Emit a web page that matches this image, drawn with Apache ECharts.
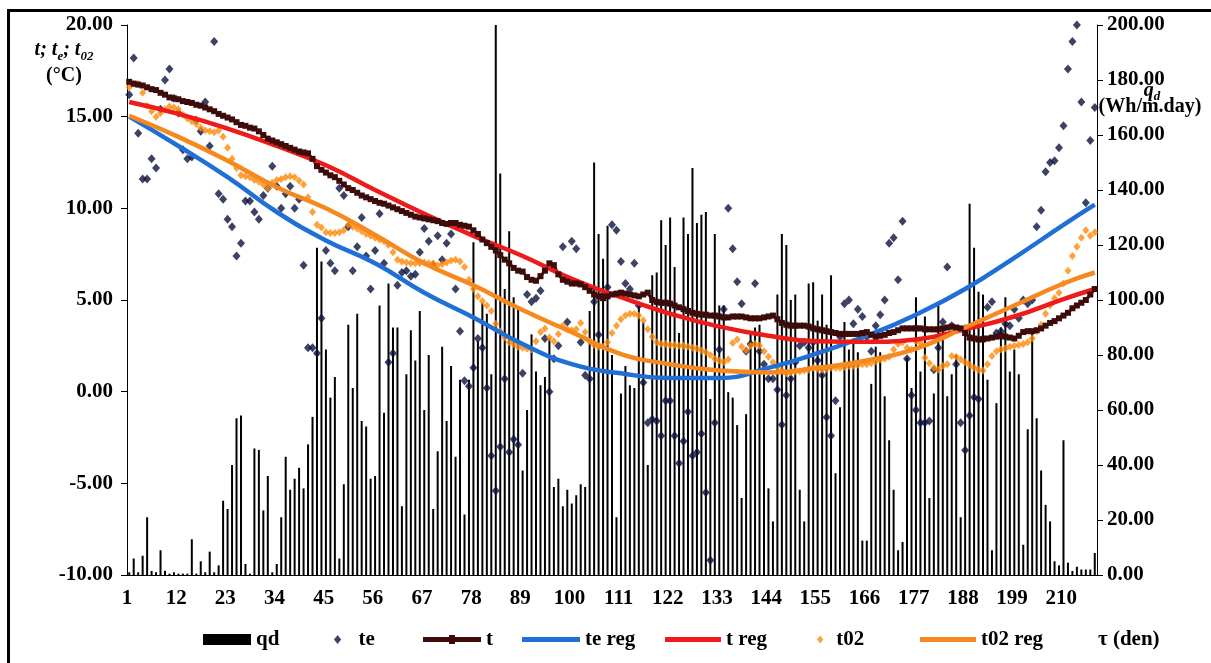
<!DOCTYPE html>
<html>
<head>
<meta charset="utf-8">
<script src="https://cdn.jsdelivr.net/npm/echarts@6/dist/echarts.min.js"></script>
<style>
  html, body { margin: 0; padding: 0; background: #fff; }
  #chart { width: 1211px; height: 663px; }
</style>
</head>
<body>
<div id="chart"></div>
<script>
// Days of the heating period (τ, den)
const days = Array.from({ length: 217 }, (_, i) => String(i + 1));

// Daily heat flux qd (Wh/m.day) – right axis
const qd = [
  1, 6, 1, 7, 21, 1.5, 1, 9, 1.5, 0.5,
  1, 0.5, 0.5, 0.5, 13, 0.5, 5, 1, 8.5, 1,
  3.5, 27, 24, 40, 57, 58, 4, 0.5, 46, 45.5,
  23.5, 36, 1, 4, 21, 43, 31, 35, 39, 31.5,
  47.5, 57.5, 119, 114, 82, 64.5, 72, 6, 33, 91,
  68, 95, 56, 54, 35, 36, 98, 59, 106, 90,
  90, 25, 73, 89, 78, 96, 60, 80, 24, 45,
  83, 56, 76, 43, 71, 22, 71, 121, 85, 99,
  95, 73, 200, 146, 104, 125, 101, 97, 38, 60,
  87.5, 74, 69, 72, 86, 32, 35, 25, 31, 26,
  29, 33, 32, 96, 150, 124, 115, 127, 80, 21,
  66, 76, 69, 68, 99, 92, 40, 109, 110, 129,
  120, 130, 112, 88, 130, 124, 148, 128, 131, 132,
  64, 124, 98, 98, 66.5, 64.5, 54.5, 28, 58.5, 88,
  90, 91, 73, 31.5, 19.5, 102, 124, 120, 100, 102,
  31, 19.5, 106, 106.5, 92.5, 102, 91, 109, 37, 61,
  92, 82, 86, 81, 12.5, 12.5, 69.5, 83, 81, 65,
  49, 31, 9, 12, 79, 68, 101, 74, 94, 28,
  66, 98, 89, 65, 73, 80, 21, 91, 135, 119,
  103, 102, 71, 9, 62.5, 90, 101, 74, 82, 73,
  11, 53, 89, 57, 38, 25.5, 19.5, 5, 3.5, 49,
  4.5, 1.5, 3, 2, 2, 2, 8
];

// Outdoor temperature te (°C)
const te = [
  16.2, 18.2, 14.1, 11.6, 11.6, 12.7, 12.2, 15.4, 17.0, 17.6,
  16.0, 15.2, 13.2, 12.7, 12.8, 14.8, 14.2, 15.8, 13.4, 19.1,
  10.8, 10.5, 9.4, 9.0, 7.4, 8.1, 10.4, 10.4, 9.8, 9.4,
  10.7, 11.1, 12.3, 11.2, 10.0, 10.8, 11.2, 10.0, 10.5, 6.9,
  2.4, 2.4, 2.1, 4.0, 7.7, 7.0, 6.6, 11.1, 10.7, 9.0,
  6.6, 7.9, 9.5, 7.4, 5.6, 7.7, 9.7, 7.0, 1.6, 2.1,
  5.8, 6.5, 6.6, 6.3, 6.4, 7.6, 8.9, 8.2, 6.9, 8.5,
  7.2, 8.1, 8.6, 5.6, 3.3, 0.6, 0.3, 1.3, 2.9, 2.4,
  0.2, -3.5, -5.4, -3.0, 0.7, -3.3, -2.6, -2.9, 1.0, 5.3,
  4.9, 5.1, 5.5, 2.9, 0.0, 1.8, 2.5, 7.9, 3.8, 8.2,
  7.8, 2.7, 0.9, 0.7, 4.9, 3.1, 5.3, 5.7, 9.1, 8.8,
  7.1, 5.9, 5.6, 7.0, 4.7, 0.5, -1.7, -1.5, -1.6, -2.4,
  -0.5, -0.5, -2.4, -3.9, -2.7, -1.1, -3.5, -3.3, -2.3, -5.5,
  -9.2, -1.7, 2.3, 4.5, 10.0, 7.8, 6.0, 4.8, 2.2, 2.6,
  5.9, 2.2, 1.5, 0.7, 0.7, 0.1, -1.8, -0.2, 0.7, 1.6,
  2.5, 2.7, 2.4, 2.7, 1.7, 0.9, -1.4, -2.4, -0.5, 3.0,
  4.8, 5.0, 3.7, 4.5, 4.1, 3.0, 2.2, 3.6, 4.2, 5.0,
  8.1, 8.4, 6.1, 9.3, 1.8, -0.2, -1.0, -1.7, -1.7, -1.6,
  1.2, 2.4, 3.8, 6.8, 3.6, 1.5, -1.7, -3.2, -1.3, -0.3,
  -0.4, 2.9, 4.6, 4.9, 3.2, 3.3, 3.7, 3.6, 4.5, 4.0,
  5.0, 4.8, 5.0, 9.0, 9.9, 12.0, 12.5, 12.6, 13.3, 14.5,
  17.6, 19.1, 20.0, 15.8, 10.3, 13.7, 15.5
];

// Temperature t (°C)
const t = [
  16.9, 16.8, 16.75, 16.7, 16.6, 16.5, 16.45, 16.3, 16.2, 16.05,
  16.0, 15.95, 15.85, 15.8, 15.75, 15.65, 15.6, 15.5, 15.4, 15.3,
  15.15, 15.05, 14.95, 14.85, 14.7, 14.55, 14.5, 14.4, 14.35, 14.2,
  14.0, 13.8, 13.7, 13.6, 13.5, 13.4, 13.3, 13.2, 13.1, 13.05,
  13.0, 12.7, 12.3, 12.1, 11.95, 11.8, 11.7, 11.5, 11.3, 11.1,
  11.0, 10.85, 10.7, 10.6, 10.5, 10.4, 10.3, 10.25, 10.15, 10.05,
  9.95, 9.85, 9.75, 9.65, 9.55, 9.5, 9.45, 9.4, 9.35, 9.3,
  9.2, 9.15, 9.2, 9.2, 9.1, 9.05, 9.0, 8.8, 8.6, 8.3,
  8.1, 7.9, 7.7, 7.45, 7.2, 7.0, 6.75, 6.6, 6.55, 6.25,
  6.1, 6.05, 6.3, 6.6, 7.0, 6.9, 6.4, 6.1, 6.0, 5.9,
  5.9, 5.85, 5.7, 5.5, 5.3, 5.2, 5.1, 5.2, 5.3, 5.35,
  5.4, 5.35, 5.3, 5.25, 5.2, 5.3, 5.4, 5.0, 4.9, 4.85,
  4.85, 4.8, 4.7, 4.6, 4.5, 4.4, 4.3, 4.25, 4.2, 4.2,
  4.15, 4.15, 4.1, 4.05, 4.05, 4.1, 4.1, 4.1, 4.05, 4.0,
  4.0, 4.0, 4.05, 4.1, 4.15, 3.95, 3.75, 3.65, 3.6, 3.6,
  3.6, 3.6, 3.55, 3.45, 3.4, 3.35, 3.3, 3.25, 3.2, 3.15,
  3.15, 3.15, 3.15, 3.15, 3.2, 3.25, 3.1, 3.0, 3.05, 3.1,
  3.2, 3.25, 3.35, 3.45, 3.45, 3.45, 3.45, 3.45, 3.4, 3.4,
  3.4, 3.4, 3.45, 3.5, 3.55, 3.5, 3.45, 3.2, 2.95, 2.9,
  2.85, 2.85, 2.9, 2.95, 3.0, 3.05, 3.0, 2.95, 2.9, 3.05,
  3.25, 3.3, 3.3, 3.35, 3.45, 3.6, 3.75, 3.85, 4.0, 4.15,
  4.3, 4.55, 4.7, 4.85, 5.0, 5.3, 5.6
];

// Temperature t02 (°C)
const t02 = [
  16.6, 16.8, 16.8, 16.3, 15.6, 15.3, 15.0, 15.2, 15.4, 15.55,
  15.5, 15.4, 15.1, 14.9, 14.75, 14.6, 14.4, 14.25, 14.2, 14.15,
  14.25, 13.9, 13.3, 12.7, 12.2, 11.8, 11.75, 11.7, 11.55, 11.45,
  11.3, 11.1, 11.4, 11.55, 11.6, 11.7, 11.75, 11.7, 11.5, 11.3,
  10.6, 9.8, 9.1, 8.95, 8.7, 8.65, 8.65, 8.7, 8.8, 9.1,
  9.0, 8.9, 8.75, 8.6, 8.5, 8.4, 8.3, 8.2, 8.0, 7.6,
  7.2, 7.1, 7.05, 7.0, 7.0, 7.0, 7.05, 7.0, 7.0, 6.9,
  6.95, 7.05, 7.15, 7.2, 7.1, 6.8, 6.1, 5.6, 5.2, 4.95,
  4.7, 4.4, 3.7, 3.3, 2.95, 2.7, 2.6, 2.45, 2.4, 2.35,
  2.3, 2.75, 3.25, 3.45, 2.95, 2.75, 3.15, 3.6, 3.4, 3.35,
  3.4, 3.75, 3.25, 2.75, 2.55, 2.45, 2.45, 2.7, 3.2, 3.6,
  3.95, 4.15, 4.25, 4.25, 4.15, 3.9, 3.4, 3.0, 2.7, 2.6,
  2.6, 2.55, 2.55, 2.5, 2.5, 2.45, 2.4, 2.35, 2.25, 2.15,
  2.0, 1.8, 1.7, 1.6, 1.75, 2.65, 2.85, 2.45, 2.25, 2.5,
  2.6, 2.5, 2.2, 1.9, 1.6, 1.35, 1.15, 1.0, 1.05, 1.1,
  1.1, 1.15, 1.2, 1.3, 1.25, 1.2, 1.25, 1.3, 1.3, 1.3,
  1.35, 1.4, 1.4, 1.45, 1.5, 1.5, 1.55, 1.65, 1.75, 1.8,
  1.9, 2.3, 2.6, 2.7, 2.4, 2.3, 2.75, 2.65, 1.85, 1.55,
  1.3, 1.2, 1.4, 1.5, 1.95, 1.9, 1.75, 1.6, 1.45, 1.3,
  1.2, 1.15, 1.5, 1.95, 2.2, 2.3, 2.35, 2.45, 2.5, 2.55,
  2.6, 2.7, 2.9, 3.3, 3.65, 4.25, 4.7, 5.1, 5.4, 5.9,
  6.6, 7.4, 7.9, 8.4, 8.8, 8.5, 8.7
];

// Regression curves, read at the labelled days
const regDays = [1, 12, 23, 34, 45, 56, 67, 78, 89, 100, 111, 122, 133, 144, 155, 166, 177, 188, 199, 210, 217];
const teReg  = [15.0, 13.4, 11.7, 9.8, 8.25, 7.0, 5.4, 4.05, 2.6, 1.5, 1.0, 0.75, 0.75, 1.3, 2.1, 3.05, 4.2, 5.6, 7.3, 9.1, 10.2];
const tReg   = [15.8, 15.15, 14.35, 13.4, 12.35, 11.0, 9.7, 8.5, 7.4, 6.15, 5.15, 4.25, 3.55, 3.05, 2.75, 2.72, 2.85, 3.4, 4.1, 5.05, 5.6];
const t02Reg = [15.05, 13.9, 12.6, 11.15, 10.0, 8.55, 7.0, 5.8, 4.45, 3.25, 2.05, 1.5, 1.15, 1.05, 1.3, 1.7, 2.35, 3.5, 4.7, 5.9, 6.5];

const SERIF = "'Liberation Serif', 'Times New Roman', serif";
const FONT = 21;
const pairs = (ys) => regDays.map((d, i) => [String(d), ys[i]]);
const fmt2 = (v) => v.toFixed(2);

// Legend glyphs
const diamondIcon = 'path://M0,-4.5L3.6,0L0,4.5L-3.6,0Z';
const lineIcon = 'path://M0,0L58,0L58,5L0,5Z';
const lineSquareIcon = 'path://M0,2L26,2L26,0L32,0L32,2L58,2L58,7L32,7L32,9L26,9L26,7L0,7Z';

const axisText = { fontFamily: SERIF, fontWeight: 'bold', fontSize: FONT, color: '#000' };
const legendText = { fontFamily: SERIF, fontWeight: 'bold', fontSize: FONT, color: '#000' };

function legendFor(name, left, width, height, icon) {
  return {
    data: [{ name: name, icon: icon }], left: left, top: 629,
    itemWidth: width, itemHeight: height, itemGap: 0, padding: 0,
    selectedMode: false, textStyle: legendText
  };
}

const chart = echarts.init(document.getElementById('chart'), null, { renderer: 'canvas' });

chart.setOption({
  animation: false,
  backgroundColor: '#fff',
  grid: { left: 127, right: 114, top: 25, bottom: 88, containLabel: false },
  xAxis: {
    type: 'category',
    data: days,
    boundaryGap: true,
    axisLine: { onZero: false, lineStyle: { color: '#000', width: 1 } },
    axisTick: { interval: 10, length: 6, lineStyle: { color: '#000' } },
    axisLabel: Object.assign({ interval: 10, margin: 13, padding: [0, 4.5, 0, 0] }, axisText),
    splitLine: { show: false }
  },
  yAxis: [
    {
      type: 'value', position: 'left', min: -10, max: 20, interval: 5,
      axisLine: { show: true, lineStyle: { color: '#000', width: 1 } },
      axisTick: { show: true, length: 6, lineStyle: { color: '#000' } },
      axisLabel: Object.assign({ formatter: fmt2, margin: 14 }, axisText),
      splitLine: { show: false }
    },
    {
      type: 'value', position: 'right', min: 0, max: 200, interval: 20,
      axisLine: { show: true, lineStyle: { color: '#000', width: 1 } },
      axisTick: { show: true, length: 6, lineStyle: { color: '#000' } },
      axisLabel: Object.assign({ formatter: fmt2, margin: 10 }, axisText),
      splitLine: { show: false }
    }
  ],
  legend: [
    legendFor('qd', 203, 48, 11, 'rect'),
    legendFor('te', 334, 32, 9, diamondIcon),
    legendFor('t', 423, 58, 9, lineSquareIcon),
    legendFor('te reg', 522, 58, 5, lineIcon),
    legendFor('t reg', 665, 56, 5, lineIcon),
    legendFor('t02', 817, 22, 8, diamondIcon),
    legendFor('t02 reg', 920, 56, 5, lineIcon)
  ],
  series: [
    {
      name: 'qd', type: 'bar', yAxisIndex: 1, data: qd,
      barWidth: 2, itemStyle: { color: '#000' }
    },
    {
      name: 'te', type: 'scatter', yAxisIndex: 0, data: te,
      symbol: 'diamond', symbolSize: [8, 9],
      itemStyle: { color: '#0b1240' }
    },
    {
      name: 't', type: 'line', yAxisIndex: 0, data: t,
      symbol: 'rect', symbolSize: 6, showSymbol: true, showAllSymbol: true,
      lineStyle: { color: '#3e0b0b', width: 3 },
      itemStyle: { color: '#3e0b0b' }
    },
    {
      name: 'te reg', type: 'line', yAxisIndex: 0, data: pairs(teReg),
      smooth: true, symbol: 'none',
      lineStyle: { color: '#1f6fd6', width: 4.5 }, itemStyle: { color: '#1f6fd6' }
    },
    {
      name: 't reg', type: 'line', yAxisIndex: 0, data: pairs(tReg),
      smooth: true, symbol: 'none',
      lineStyle: { color: '#ee1b1b', width: 4.5 }, itemStyle: { color: '#ee1b1b' }
    },
    {
      name: 't02', type: 'scatter', yAxisIndex: 0, data: t02,
      symbol: 'diamond', symbolSize: [7, 8],
      itemStyle: { color: '#ff8a0a' }
    },
    {
      name: 't02 reg', type: 'line', yAxisIndex: 0, data: pairs(t02Reg),
      smooth: true, symbol: 'none',
      lineStyle: { color: '#f5891f', width: 4.5 }, itemStyle: { color: '#f5891f' }
    }
  ],
  graphic: [
    {
      type: 'rect', silent: true, z: 100,
      shape: { x: 8.5, y: 10.5, width: 1400, height: 1000 },
      style: { fill: 'none', stroke: '#000', lineWidth: 3 }
    },
    {
      type: 'text', silent: true, x: 64, y: 50,
      style: {
        text: '{m|t; t}{s|e}{m|; t}{s|02}',
        textAlign: 'center', textVerticalAlign: 'middle',
        rich: {
          m: { fontFamily: SERIF, fontStyle: 'italic', fontWeight: 'bold', fontSize: 20, lineHeight: 26, fill: '#000' },
          s: { fontFamily: SERIF, fontStyle: 'italic', fontWeight: 'bold', fontSize: 13, lineHeight: 13, verticalAlign: 'bottom', fill: '#000' }
        }
      }
    },
    {
      type: 'text', silent: true, x: 64, y: 76,
      style: { text: '(°C)', textAlign: 'center', textVerticalAlign: 'middle', font: 'bold 20px ' + SERIF, fill: '#000' }
    },
    {
      type: 'text', silent: true, x: 1152, y: 91,
      style: {
        text: '{m|q}{s|d}',
        textAlign: 'center', textVerticalAlign: 'middle',
        rich: {
          m: { fontFamily: SERIF, fontStyle: 'italic', fontWeight: 'bold', fontSize: 20, lineHeight: 24, fill: '#000' },
          s: { fontFamily: SERIF, fontStyle: 'italic', fontWeight: 'bold', fontSize: 13, lineHeight: 13, verticalAlign: 'bottom', fill: '#000' }
        }
      }
    },
    {
      type: 'text', silent: true, x: 1150, y: 107,
      style: { text: '(Wh/m.day)', textAlign: 'center', textVerticalAlign: 'middle', font: 'bold 20px ' + SERIF, fill: '#000' }
    },
    {
      type: 'text', silent: true, x: 1098, y: 640,
      style: { text: 'τ (den)', textAlign: 'left', textVerticalAlign: 'middle', font: 'bold 21px ' + SERIF, fill: '#000' }
    }
  ]
});
</script>
</body>
</html>
